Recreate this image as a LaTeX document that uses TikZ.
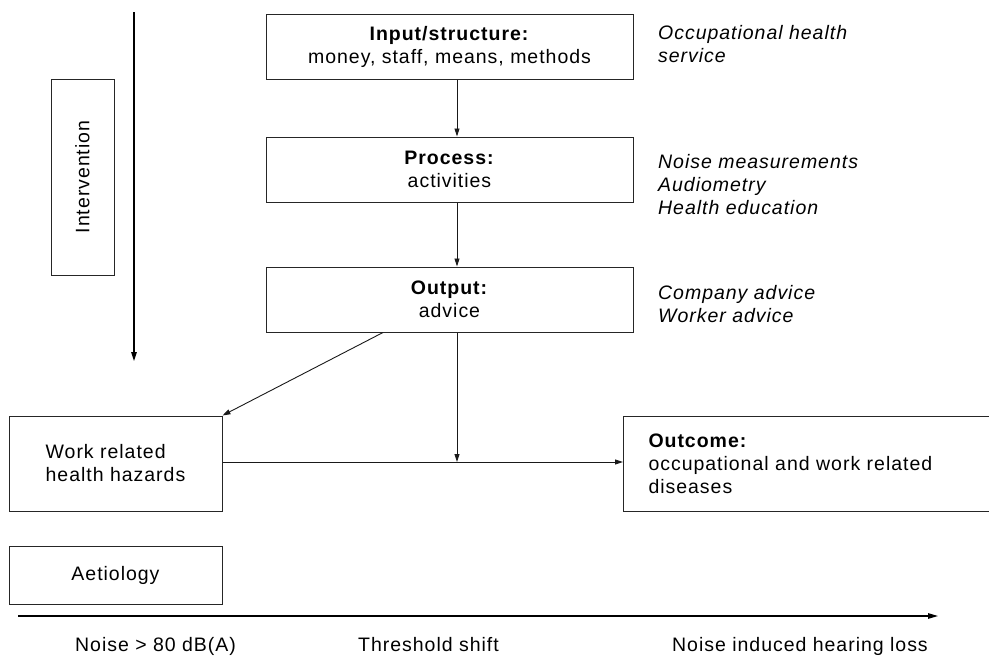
\documentclass[tikz,border=0pt]{standalone}
\usepackage{fontspec}
\setmainfont[LetterSpace=5]{Liberation Sans}
\usetikzlibrary{arrows.meta}
\begin{document}
\begin{tikzpicture}[x=1pt,y=-1pt,
  every node/.style={font=\fontsize{19.5}{23}\selectfont},
  box/.style={draw=black!85, line width=1pt, inner sep=0pt},
  arr/.style={-{Triangle[length=8pt,width=5pt]}, line width=0.9pt, draw=black!90},
  side/.style={anchor=base west, align=left, inner sep=0pt, font=\fontsize{19.5}{23}\selectfont\itshape},
  lab/.style={anchor=base west, inner sep=0pt}]
\useasboundingbox (0,0) rectangle (989,656);
% intervention
\node[box, rotate=90, minimum width=196pt, minimum height=63pt] (int) at (82.5,177) {Intervention};
\coordinate (it) at (134,12);
\coordinate (ib) at (134,361);
\draw[-{Triangle[length=9pt,width=5.5pt]}, line width=1.2pt] (it) -- (ib);
% chain
\node[box, align=center, minimum width=367pt, minimum height=65pt] (inp) at (449.5,46.5) {\textbf{Input/structure:}\\money, staff, means, methods};
\node[box, align=center, minimum width=367pt, minimum height=65pt] (proc) at (449.5,169.5) {\textbf{Process:}\\activities};
\node[box, align=center, minimum width=367pt, minimum height=65pt] (outp) at (449.5,299.5) {\textbf{Output:}\\advice};
\draw[arr] ([xshift=7.5pt]inp.south) -- ([xshift=7.5pt]proc.north);
\draw[arr] ([xshift=7.5pt]proc.south) -- ([xshift=7.5pt]outp.north);
% side texts (base anchor = last line)
\node[side] (s1) at (658,62) {Occupational health\\service};
\node[side] (s2) at (658,214) {Noise measurements\\Audiometry\\Health education};
\node[side] (s3) at (658,322) {Company advice\\Worker advice};
% lower boxes
\node[box, align=left, minimum width=213pt, minimum height=95pt] (work) at (115.5,463.5) {Work related\\health hazards};
\node[box, anchor=north west, align=left, text width=320pt, inner xsep=25pt, minimum height=95pt] (outc) at (623,416) {\textbf{Outcome:}\\occupational and work related\\diseases};
\node[box, minimum width=213pt, minimum height=58pt] (aet) at (115.5,575) {Aetiology};
\coordinate (m) at (457,462);
\draw[arr] ([xshift=-66.5pt]outp.south) -- (work.north east);
\draw[arr] ([xshift=7.5pt]outp.south) -- (m);
\draw[arr] (work.east |- m) -- (outc.west |- m);
% axis
\coordinate (a1) at (18,616);
\coordinate (a2) at (938,616);
\draw[-{Triangle[length=10pt,width=5.5pt]}, line width=1.2pt] (a1) -- (a2);
\node[lab] (l1) at (75,651) {Noise > 80 dB(A)};
\node[lab] (l2) at (358,651) {Threshold shift};
\node[lab] (l3) at (672,651) {Noise induced hearing loss};
\end{tikzpicture}
\end{document}
